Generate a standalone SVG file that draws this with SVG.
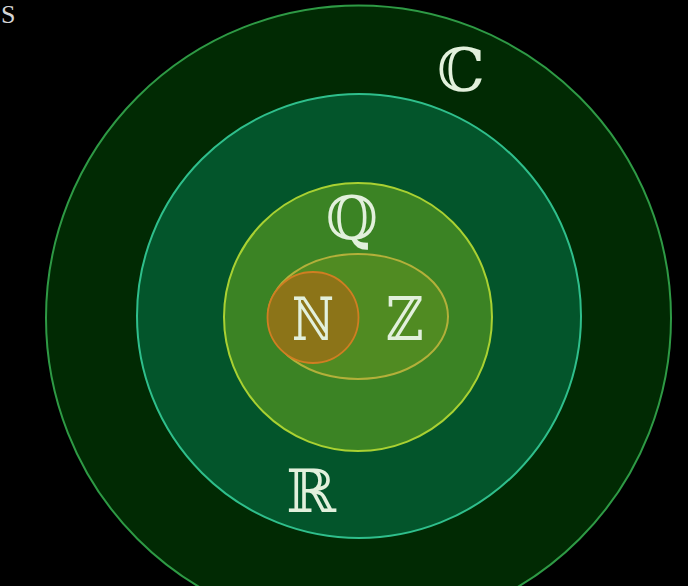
<svg xmlns="http://www.w3.org/2000/svg" width="688" height="586" viewBox="0 0 688 586">
<style>
.lbl{font-family:"DejaVu Serif","DejaVu Sans",serif;font-size:60px;fill:#e2f0dc;text-anchor:middle}
.cap{font-family:"Liberation Serif",serif;font-size:26px;fill:#d6d6d6}
</style>
<rect width="688" height="586" fill="#000"/>
<text class="cap" x="1" y="23">S</text>
<g id="set-C">
<circle cx="358.5" cy="318" r="312.5" fill="#012a03" stroke="#2e9a45" stroke-width="2"/>
<text class="lbl" x="461" y="91">ℂ</text>
</g>
<g id="set-R">
<circle cx="359" cy="316" r="222" fill="#03552b" stroke="#2fbf8c" stroke-width="2"/>
<text class="lbl" x="311" y="512">ℝ</text>
</g>
<g id="set-Q">
<circle cx="358" cy="317" r="134" fill="#3b8324" stroke="#a9d132" stroke-width="2"/>
<text class="lbl" x="352" y="239">ℚ</text>
</g>
<g id="set-Z">
<ellipse cx="358" cy="316.5" rx="90" ry="62.5" fill="#508b22" stroke="#b3b03a" stroke-width="2"/>
<text class="lbl" x="405" y="340" textLength="38" lengthAdjust="spacingAndGlyphs">ℤ</text>
</g>
<g id="set-N">
<circle cx="313" cy="317.5" r="45.5" fill="#8c7418" stroke="#d07e22" stroke-width="1.8"/>
<text class="lbl" x="313" y="340" textLength="42" lengthAdjust="spacingAndGlyphs">ℕ</text>
</g>
<g id="connectors"/>
</svg>
